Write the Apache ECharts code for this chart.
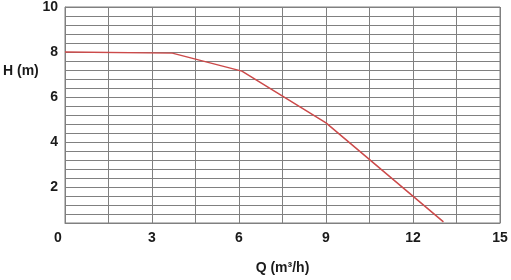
<!DOCTYPE html>
<html>
<head>
<meta charset="utf-8">
<script src="https://cdn.jsdelivr.net/npm/echarts@6/dist/echarts.min.js"></script>
<style>
  html, body { margin: 0; padding: 0; background: #fff; }
  #chart { width: 511px; height: 280px; }
</style>
</head>
<body>
<div id="chart"></div>
<script>
// pump curve Q (m3/h) vs H (m)
var flowQ = [0, 3.7, 6.1, 9.0, 13.05];
var headH = [8.0, 7.95, 7.15, 4.85, 0.45];
var xTickLabels = [0, 3, 6, 9, 12, 15];
var yTickLabels = [2, 4, 6, 8, 10];

var gridColor = '#808080';
var textColor = '#1a1a1a';
var font = '"Liberation Sans", Arial, sans-serif';

var chart = echarts.init(document.getElementById('chart'));

var points = flowQ.map(function (q, i) { return [q, headH[i]]; });

var option = {
    animation: false,
    grid: {
        left: 65, right: 11, top: 7, bottom: 53,
        show: true,
        borderColor: gridColor,
        borderWidth: 1
    },
    xAxis: {
        type: 'value',
        min: 0, max: 15, interval: 1.5,
        name: 'Q (m³/h)',
        nameLocation: 'middle',
        nameGap: 38,
        nameTextStyle: { fontFamily: font, fontWeight: 'bold', fontSize: 14, color: textColor },
        axisLine: { show: true, lineStyle: { color: gridColor } },
        axisTick: { show: false },
        splitLine: { show: true, lineStyle: { color: gridColor, width: 1 } },
        axisLabel: {
            margin: 8,
            fontFamily: font, fontWeight: 'bold', fontSize: 14, color: textColor,
            formatter: function (v) {
                var r = Math.round(v * 10) / 10;
                if (r === 0) return '{z|0}';   // corner label sits a bit left
                return xTickLabels.indexOf(r) >= 0 ? String(r) : '';
            },
            rich: {
                z: { fontFamily: font, fontWeight: 'bold', fontSize: 14, color: textColor, padding: [0, 14, 0, 0] }
            }
        }
    },
    yAxis: {
        type: 'value',
        min: 0.4, max: 10, interval: 0.4,
        axisLine: { show: true, lineStyle: { color: gridColor } },
        axisTick: { show: false },
        splitLine: { show: true, lineStyle: { color: gridColor, width: 1 } },
        axisLabel: {
            margin: 7,
            fontFamily: font, fontWeight: 'bold', fontSize: 14, color: textColor,
            formatter: function (v) {
                var r = Math.round(v * 10) / 10;
                return yTickLabels.indexOf(r) >= 0 ? String(r) : '';
            }
        }
    },
    graphic: [{
        type: 'text',
        left: 3, top: 64,
        style: { text: 'H (m)', fontFamily: font, fontWeight: 'bold', fontSize: 14, fill: textColor }
    }],
    series: [{
        type: 'line',
        data: points,
        showSymbol: false,
        smooth: false,
        lineStyle: { color: '#cc4a4a', width: 1.5 }
    }]
};

chart.setOption(option);
</script>
</body>
</html>
